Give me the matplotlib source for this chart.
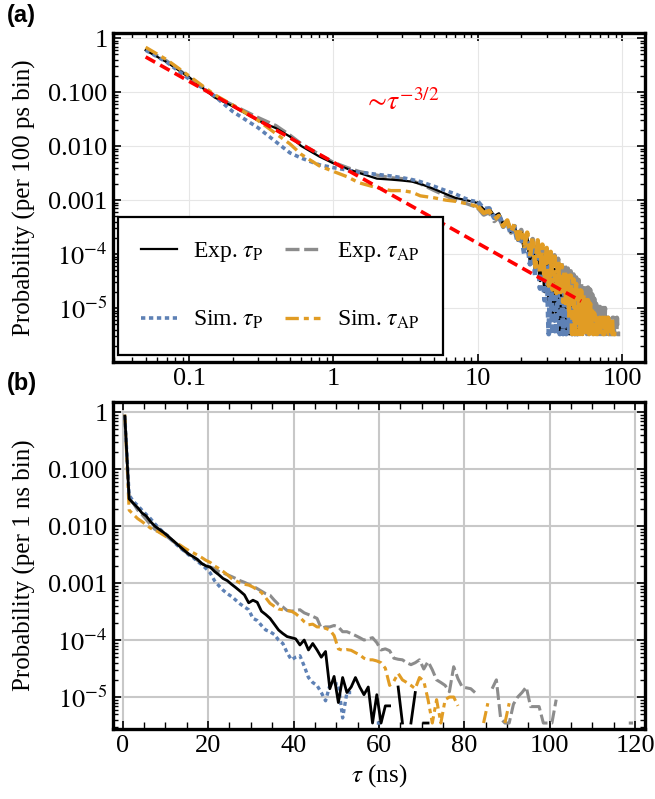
import numpy as np
import matplotlib.pyplot as plt
from matplotlib.ticker import FixedLocator, FixedFormatter, LogLocator, MultipleLocator, NullFormatter

plt.rcParams['font.family'] = ['Liberation Serif', 'DejaVu Serif']
plt.rcParams['mathtext.fontset'] = 'stix'

nan = np.nan

# ---- panel (a): 100 ps bins, log-log ----
tau_a_head = [0.05, 0.07, 0.1, 0.15, 0.2, 0.3, 0.4, 0.5, 0.6, 0.8, 1.0, 1.25, 1.5,
              2.0, 2.5, 3.0, 3.5, 4.0, 5.0, 6.0, 7.0, 8.0, 9.0]
tau_a_tail = list(range(10, 98))

exp_p_a = [0.60, 0.36, 0.19, 0.080, 0.055, 0.030, 0.0215, 0.0150, 0.0100, 0.0064, 0.0048,
           0.0038, 0.0032, 0.0025, 0.0024, 0.0023, 0.0022, 0.0020, 0.0016, 0.0013, 0.0011,
           0.00102, 9.5e-4,
           8.8e-4, 6.6e-4, 6.9e-4, 5.0e-4, 5.6e-4, 3.6e-4, 4.2e-4, 2.6e-4, 3.2e-4, 1.8e-4,
           2.5e-4, 1.2e-4, 1.9e-4, 7.5e-5, 1.5e-4, 4.8e-5, 1.2e-4, 3.2e-5, 9.5e-5, 2.0e-5,
           8e-5, 1.3e-5, 6.5e-5, 8e-6, 5.2e-5, 6.6e-6, 4.2e-5, 3.3e-6, 3.3e-5, 3.3e-6,
           2.5e-5, 3.3e-6, 1.8e-5, 3.3e-6, 1.3e-5, 3.3e-6, 1.0e-5, 3.3e-6, 8e-6, 3.3e-6,
           6.6e-6, 3.3e-6, 3.3e-6, 3.3e-6]
exp_ap_a = [0.62, 0.38, 0.19, 0.085, 0.058, 0.034, 0.024, 0.016, 0.011, 0.0070, 0.0050,
            0.0040, 0.0034, 0.0029, 0.0026, 0.0025, 0.0023, 0.0020, 0.0015, 0.0012, 0.0010,
            9.0e-4, 8.0e-4,
            7.3e-4, 5.4e-4, 6.0e-4, 4.1e-4, 4.9e-4, 3.2e-4, 4.0e-4, 2.5e-4, 3.3e-4, 1.9e-4,
            2.8e-4, 1.4e-4, 2.3e-4, 1.0e-4, 1.9e-4, 7e-5, 1.6e-4, 5e-5, 1.4e-4, 3.8e-5,
            1.2e-4, 3.0e-5, 1.05e-4, 2.4e-5, 9.5e-5, 2.0e-5, 8.2e-5, 1.6e-5, 7.0e-5, 1.3e-5,
            6.2e-5, 1.0e-5, 5.4e-5, 6.6e-6, 4.8e-5, 6.6e-6, 4.2e-5, 3.3e-6, 3.7e-5, 3.3e-6,
            3.3e-5, 3.3e-6, 3.0e-5, 3.3e-6, 2.8e-5, 3.3e-6, 2.6e-5, 3.3e-6, 2.4e-5, 3.3e-6,
            2.2e-5, 3.3e-6, 1.8e-5, 3.3e-6, 1.5e-5, 3.3e-6, 1.2e-5, 3.3e-6, 1.0e-5, 3.3e-6,
            1.05e-5, 3.3e-6, 1.0e-5, 3.3e-6, 1.0e-5, 3.3e-6, 1.0e-5, 3.3e-6, 6.6e-6, 3.3e-6,
            6.6e-6, 3.3e-6, 3.3e-6, 3.3e-6, 3.3e-6, 3.3e-6, 6.6e-6, 6.6e-6, 3.3e-6, 3.3e-6,
            3.3e-6, 3.3e-6, 6.6e-6, 3.3e-6, 3.3e-6, 3.3e-6, 3.3e-6, 3.3e-6]
sim_p_a = [0.60, 0.36, 0.175, 0.085, 0.044, 0.022, 0.012, 0.0075, 0.0060, 0.0045, 0.0040,
           0.0036, 0.0033, 0.0030, 0.0028, 0.0026, 0.0024, 0.0022, 0.0018, 0.0015, 0.0013,
           0.0011, 9.8e-4,
           9.3e-4, 6.8e-4, 7.0e-4, 4.7e-4, 5.3e-4, 3.3e-4, 4.0e-4, 2.3e-4, 3.0e-4, 1.6e-4,
           2.3e-4, 1.0e-4, 1.8e-4, 6.5e-5, 1.4e-4, 4.0e-5, 1.1e-4, 2.3e-5, 9e-5, 1.4e-5,
           8e-5, 3.3e-6, 6.2e-5, 3.3e-6, 4.8e-5, 3.3e-6, 3.8e-5, 3.3e-6, 2.7e-5, 3.3e-6,
           2.0e-5, 3.3e-6, 1.5e-5, 3.3e-6, 1.1e-5, 3.3e-6, 8.5e-6, 3.3e-6, 6.6e-6, 3.3e-6,
           5e-6, 3.3e-6]
sim_ap_a = [0.68, 0.40, 0.20, 0.090, 0.058, 0.030, 0.017, 0.011, 0.0070, 0.0043, 0.0034,
            0.0027, 0.0021, 0.0017, 0.0015, 0.0015, 0.0014, 0.0012, 0.0011, 0.00100, 9.5e-4,
            8.8e-4, 8.2e-4,
            7.6e-4, 5.8e-4, 6.3e-4, 4.4e-4, 5.1e-4, 3.3e-4, 4.2e-4, 2.5e-4, 3.6e-4, 1.9e-4,
            3.0e-4, 1.4e-4, 2.5e-4, 9e-5, 2.1e-4, 5.8e-5, 1.8e-4, 4.2e-5, 1.5e-4, 3.3e-5,
            1.3e-4, 2.6e-5, 1.1e-4, 2.2e-5, 9e-5, 1.9e-5, 7.5e-5, 1.6e-5, 6.2e-5, 1.3e-5,
            5.2e-5, 1.0e-5, 4.4e-5, 6.6e-6, 4.0e-5, 3.3e-6, 3.4e-5, 3.3e-6, 2.8e-5, 3.3e-6,
            2.4e-5, 3.3e-6, 2.1e-5, 3.3e-6, 1.8e-5, 3.3e-6, 1.6e-5, 3.3e-6, 1.4e-5, 3.3e-6,
            1.2e-5, 3.3e-6, 1.0e-5, 3.3e-6, 8e-6, 3.3e-6, 6.6e-6, 3.3e-6, 6.6e-6, 3.3e-6,
            6.6e-6, 3.3e-6, 3.3e-6, 6.6e-6, 3.3e-6, 3.3e-6, 6.6e-6, 3.3e-6, 3.3e-6, 3.3e-6,
            6.6e-6, 3.3e-6, 3.3e-6, 3.3e-6, 3.3e-6, 6.6e-6, 3.3e-6, 3.3e-6, 3.3e-6, 3.3e-6,
            3.3e-6, 3.3e-6, 3.3e-6]

# guide line ~ tau^-3/2 (end points)
guide_tau = [0.05, 52]
guide_p = [0.45, 1.34e-5]

# ---- panel (b): 1 ns bins, log-lin ----
tau_b = np.arange(0.5, 120)

exp_p_b = [0.85, 0.030, 0.025, 0.021, 0.017, 0.015, 0.012, 0.0100, 0.0088, 0.0078,
           0.0068, 0.0058, 0.0050, 0.0043, 0.0037, 0.0032, 0.0029, 0.0026, 0.0022, 0.0020,
           0.0019, 0.0016, 0.0014, 0.0012, 0.0011, 9.5e-4, 8.3e-4, 7.2e-4, 6.2e-4, 4.5e-4,
           5.0e-4, 4.6e-4, 3.2e-4, 2.8e-4, 2.4e-4, 1.9e-4, 1.5e-4, 1.3e-4, 1.15e-4, 1.1e-4,
           1.05e-4, 8.2e-5, 1.0e-4, 6.7e-5, 8.7e-5, 6.7e-5, 5.0e-5, 6.3e-5, 1.4e-5, 2.3e-5,
           8e-6, 2.2e-5, 1.2e-5, 1.5e-5, 2.2e-5, 1.5e-5, 1.1e-5, 1.5e-5, 3.5e-6, 1.1e-5,
           3.5e-6, 7e-6, 7e-6, nan, 1.5e-5, 3.5e-6, nan, 3.5e-6, 1.2e-5, nan,
           3.5e-6, 3.5e-6]
exp_ap_b = [0.85, 0.030, 0.025, 0.019, 0.016, 0.013, 0.0105, 0.0088, 0.0079, 0.0072,
            0.0064, 0.0056, 0.0049, 0.0042, 0.0036, 0.0032, 0.0028, 0.0025, 0.0022, 0.0020,
            0.0019, 0.0018, 0.0016, 0.0015, 0.0014, 0.0013, 0.0012, 0.0011, 0.00103, 9.5e-4,
            8.8e-4, 8.0e-4, 7.2e-4, 6.5e-4, 6.1e-4, 5.0e-4, 4.2e-4, 3.8e-4, 3.3e-4, 3.2e-4,
            3.3e-4, 3.4e-4, 3.0e-4, 2.8e-4, 2.6e-4, 2.4e-4, 1.6e-4, 1.7e-4, 1.7e-4, 1.8e-4,
            1.7e-4, 1.4e-4, 1.4e-4, 1.3e-4, 1.2e-4, 1.1e-4, 1.0e-4, 1.05e-4, 1.1e-4, 9e-5,
            6.7e-5, 7e-5, 6.5e-5, 4.8e-5, 4.6e-5, 4.5e-5, 4.0e-5, 3.7e-5, 4.0e-5, 4.5e-5,
            3.1e-5, 4.2e-5, 3.0e-5, 2.0e-5, 1.8e-5, 1.6e-5, 1.24e-5, 3.4e-5, 2.1e-5, 1.5e-5,
            1.45e-5, 1.4e-5, 1.2e-5, nan, nan, nan, 1.4e-5, 2.0e-5, 4.2e-6, 3.5e-6,
            3.5e-6, 7.5e-6, 1.0e-5, 1.2e-5, 1.5e-5, 6.8e-6, 6.8e-6, 6.8e-6, 3.5e-6, 3.5e-6,
            3.5e-6, 9e-6, nan, nan, nan, nan, nan, nan, nan, nan,
            nan, nan, nan, nan, nan, nan, nan, nan, 3.5e-6, 3.5e-6]
sim_p_b = [0.85, 0.035, 0.027, 0.023, 0.019, 0.016, 0.0135, 0.011, 0.0092, 0.0078,
           0.0068, 0.0057, 0.0048, 0.0041, 0.0036, 0.0031, 0.0028, 0.0024, 0.0021, 0.0018,
           0.0015, 0.0011, 9.0e-4, 7.5e-4, 6.5e-4, 5.8e-4, 5.0e-4, 4.3e-4, 3.8e-4, 3.4e-4,
           2.4e-4, 2.2e-4, 1.8e-4, 1.5e-4, 1.4e-4, 1.25e-4, 1.0e-4, 8.7e-5, 6e-5, 4.5e-5,
           5.0e-5, 5.3e-5, 3.5e-5, 2.2e-5, 1.8e-5, 1.6e-5, 1.2e-5, 8.6e-6, 1.6e-5, 1.7e-5,
           1.7e-5, 4.3e-6, 1.2e-5, 1.2e-5, nan, nan, nan, nan, nan, 3.5e-6,
           3.5e-6]
sim_ap_b = [0.9, 0.019, 0.016, 0.0135, 0.012, 0.0105, 0.0092, 0.0085, 0.0078, 0.0070,
            0.0063, 0.0057, 0.0051, 0.0046, 0.0041, 0.0037, 0.0034, 0.0031, 0.0028, 0.0025,
            0.0023, 0.0020, 0.0018, 0.0016, 0.0014, 0.0012, 0.0011, 0.0010, 9.5e-4, 9.2e-4,
            8.5e-4, 7.6e-4, 6.8e-4, 5.5e-4, 4.4e-4, 3.9e-4, 3.5e-4, 3.4e-4, 3.3e-4, 3.2e-4,
            2.9e-4, 2.5e-4, 2.1e-4, 1.85e-4, 1.9e-4, 1.7e-4, 1.7e-4, 1.6e-4, 1.5e-4, 1.2e-4,
            7e-5, 6.6e-5, 6.8e-5, 6.6e-5, 6e-5, 5.5e-5, 4.8e-5, 4.5e-5, 4.5e-5, 4.3e-5,
            4e-5, 3.2e-5, 1.6e-5, 1.9e-5, 2.6e-5, 2.0e-5, 1.8e-5, 1.6e-5, 1.4e-5, 2.2e-5,
            1.9e-5, 9e-6, 3.5e-6, 9e-6, 3.5e-6, 9e-6, 1.0e-5, 1.0e-5, 7e-6, nan,
            nan, nan, nan, nan, 3.5e-6, 7.8e-6, nan, nan, nan, 3.5e-6,
            7.8e-6]

ytick_vals = [1e-5, 1e-4, 1e-3, 1e-2, 1e-1, 1]
ytick_labels = [r'$10^{-5}$', r'$10^{-4}$', '0.001', '0.010', '0.100', '1']

BLUE = '#5E81B5'
ORANGE = '#E19C24'
GRAY = '#8C8C8C'

st_gray = (0, (4.2, 1.4))
st_blue = (0, (1.2, 1.0))
st_orange = (0, (4.0, 1.5, 1.5, 1.5))

fig = plt.figure(figsize=(6.55, 7.99), dpi=100)
ax_a = fig.add_axes([113/655, 1-362/799, 532/655, 329/799])
ax_b = fig.add_axes([113/655, 1-729/799, 532/655, 327/799])


def style(ax):
    for s in ax.spines.values():
        s.set_linewidth(2.4)
    ax.tick_params(which='both', direction='in', top=True, right=True, labelsize=19)
    ax.tick_params(which='major', length=6, width=1.2, pad=4)
    ax.tick_params(which='minor', length=3.5, width=1.0)
    ax.yaxis.set_major_locator(FixedLocator(ytick_vals))
    ax.yaxis.set_major_formatter(FixedFormatter(ytick_labels))
    ax.yaxis.set_minor_locator(LogLocator(base=10, subs=np.arange(2, 10), numticks=20))
    ax.yaxis.set_minor_formatter(NullFormatter())


# panel (a): smooth head drawn thin, noisy tail drawn heavier so it reads as a band
ax_a.set_xscale('log')
ax_a.set_yscale('log')
xa = tau_a_head + tau_a_tail
nh = len(tau_a_head) + 1
series_a = [(exp_ap_a, GRAY, 2.4, st_gray),
            (exp_p_a, 'black', 1.6, '-'),
            (sim_p_a, BLUE, 2.6, st_blue),
            (sim_ap_a, ORANGE, 2.4, st_orange)]
handles = []
for ys, col, lw, ls in series_a:
    h, = ax_a.plot(xa[:nh], ys[:nh], color=col, lw=lw, ls=ls)
    ax_a.plot(xa[nh - 1:len(ys)], ys[nh - 1:], color=col, lw=lw * 1.35, ls=ls)
    handles.append(h)
l_eap, l_ep, l_sp, l_sap = handles
ax_a.plot(guide_tau, guide_p, color='red', lw=2.6, ls=(0, (3, 1.6)))
ax_a.text(1.6, 0.046, r'$\sim\!\tau^{-3/2}$', color='red', fontsize=20)

ax_a.set_xlim(0.0297, 144)
ax_a.set_ylim(1e-6, 1.25)
style(ax_a)
ax_a.xaxis.set_major_locator(FixedLocator([0.1, 1, 10, 100]))
ax_a.xaxis.set_major_formatter(FixedFormatter(['0.1', '1', '10', '100']))
ax_a.xaxis.set_minor_locator(LogLocator(base=10, subs=np.arange(2, 10), numticks=20))
ax_a.xaxis.set_minor_formatter(NullFormatter())
ax_a.grid(True, which='major', color='#e6e6e6', lw=0.8)
ax_a.set_axisbelow(True)
ax_a.set_ylabel('Probability (per 100 ps bin)', fontsize=18)
ax_a.yaxis.set_label_coords(-0.145, 0.5)

leg = ax_a.legend([l_ep, l_sp, l_eap, l_sap],
                  [r'Exp. $\tau_{\rm P}$', r'Sim. $\tau_{\rm P}$',
                   r'Exp. $\tau_{\rm AP}$', r'Sim. $\tau_{\rm AP}$'],
                  ncol=2, loc='lower left', bbox_to_anchor=(0.009, 0.021),
                  fontsize=17, labelspacing=1.9, handlelength=1.5, handletextpad=0.7,
                  columnspacing=0.9, borderpad=1.0, fancybox=False, framealpha=1,
                  edgecolor='black', borderaxespad=0)
leg.get_frame().set_linewidth(1.6)

# panel (b)
ax_b.set_yscale('log')
ax_b.plot(tau_b[:len(exp_ap_b)], exp_ap_b, color=GRAY, lw=2.2, ls=st_gray)
ax_b.plot(tau_b[:len(sim_ap_b)], sim_ap_b, color=ORANGE, lw=2.2, ls=st_orange)
ax_b.plot(tau_b[:len(sim_p_b)], sim_p_b, color=BLUE, lw=2.4, ls=st_blue)
ax_b.plot(tau_b[:len(exp_p_b)], exp_p_b, color='black', lw=2.0)
ax_b.set_xlim(-2.27, 122.3)
ax_b.set_ylim(2.75e-6, 1.5)
style(ax_b)
ax_b.xaxis.set_major_locator(MultipleLocator(20))
ax_b.xaxis.set_minor_locator(MultipleLocator(5))
ax_b.tick_params(axis='x', which='minor', length=5)
ax_b.grid(True, which='major', color='#c8c8c8', lw=1.5)
ax_b.set_axisbelow(True)
ax_b.set_ylabel('Probability (per 1 ns bin)', fontsize=18)
ax_b.yaxis.set_label_coords(-0.145, 0.5)
ax_b.set_xlabel(r'$\tau$ (ns)', fontsize=18)

fig.text(0.01, 0.995, '(a)', fontsize=17, fontweight='bold', family='Liberation Sans', va='top')
fig.text(0.01, 1-372/799, '(b)', fontsize=17, fontweight='bold', family='Liberation Sans', va='top')

fig.savefig('out.png', dpi=100)
